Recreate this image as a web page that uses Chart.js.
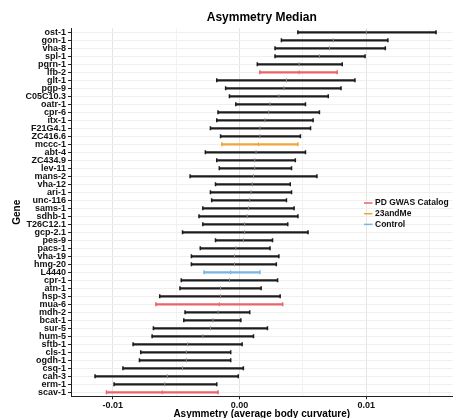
<!DOCTYPE html>
<html><head><meta charset="utf-8">
<script src="https://cdn.jsdelivr.net/npm/chart.js@4"></script>
<style>html,body{margin:0;padding:0;background:#fff;}</style>
</head><body>
<canvas id="c" width="458" height="418"></canvas>
<script>
const genes = ['ost-1','gon-1','vha-8','spl-1','pgrn-1','lfb-2','glt-1','pgp-9','C05C10.3','oatr-1',
  'cpr-6','itx-1','F21G4.1','ZC416.6','mccc-1','abt-4','ZC434.9','lev-11','mans-2','vha-12',
  'ari-1','unc-116','sams-1','sdhb-1','T26C12.1','gcp-2.1','pes-9','pacs-1','vha-19','hmg-20',
  'L4440','cpr-1','atn-1','hsp-3','mua-6','mdh-2','bcat-1','sur-5','hum-5','sftb-1',
  'cls-1','ogdh-1','csq-1','cah-3','erm-1','scav-1'];
const lowerCI = [0.0046,0.0033,0.0028,0.0028,0.0014,0.0016,-0.0018,-0.0011,-0.0008,-0.0003,
  -0.0017,-0.0018,-0.0023,-0.0015,-0.0014,-0.0027,-0.0018,-0.0016,-0.0039,-0.0019,
  -0.0023,-0.0022,-0.0029,-0.0032,-0.0029,-0.0045,-0.0019,-0.0031,-0.0038,-0.0038,
  -0.0028,-0.0046,-0.0047,-0.0063,-0.0066,-0.0043,-0.0044,-0.0068,-0.0069,-0.0084,
  -0.0078,-0.0079,-0.0092,-0.0114,-0.0099,-0.0105];
const medians = [0.0100,0.0074,0.0071,0.0063,0.0047,0.0047,0.0037,0.0035,0.0031,0.0024,
  0.0023,0.0020,0.0016,0.0016,0.0015,0.0013,0.0012,0.0012,0.0011,0.0010,
  0.0009,0.0008,0.0007,0.0006,0.0004,0.0004,0.0003,-0.0003,-0.0004,-0.0004,
  -0.0007,-0.0008,-0.0015,-0.0015,-0.0016,-0.0017,-0.0021,-0.0023,-0.0029,-0.0041,
  -0.0042,-0.0042,-0.0045,-0.0057,-0.0059,-0.0061];
const upperCI = [0.0155,0.0117,0.0115,0.0099,0.0081,0.0077,0.0091,0.0080,0.0070,0.0052,
  0.0063,0.0058,0.0056,0.0048,0.0046,0.0052,0.0044,0.0041,0.0061,0.0040,
  0.0041,0.0037,0.0043,0.0046,0.0038,0.0054,0.0026,0.0024,0.0031,0.0029,
  0.0016,0.0030,0.0017,0.0032,0.0034,0.0008,0.0001,0.0022,0.0011,0.0002,
  -0.0007,-0.0007,0.0003,-0.0001,-0.0018,-0.0017];
const pdGwasGenes = ['lfb-2','mua-6','scav-1'];
const andMeGenes = ['mccc-1'];
const controlGenes = ['L4440'];
const legendLabels = ['PD GWAS Catalog','23andMe','Control'];
const xTickValues = [-0.01,-0.005,0,0.005,0.01,0.015];
const xTickLabels = ['-0.01','','0.00','','0.01',''];

const FONT = "'Liberation Sans', Arial, Helvetica, sans-serif";
const C_BLACK = '#1c1c1c', C_RED = '#E8646A', C_ORANGE = '#F0A53A', C_BLUE = '#79B4E3';
const legendColors = [C_RED, C_ORANGE, C_BLUE];
function colorOf(g){
  if (pdGwasGenes.includes(g)) return C_RED;
  if (andMeGenes.includes(g)) return C_ORANGE;
  if (controlGenes.includes(g)) return C_BLUE;
  return C_BLACK;
}
const rowColors = genes.map(colorOf);
const medColors = genes.map(g => colorOf(g) === C_BLACK ? '#8a8a8a' : colorOf(g));

const insideLegend = {
  id: 'insideLegend',
  afterDraw(chart){
    const {ctx, chartArea} = chart;
    const x0 = chartArea.right - 88.5;
    const mid = (chartArea.top + chartArea.bottom) / 2 + 1.4;
    ctx.save();
    ctx.font = "bold 8.5px " + FONT;
    ctx.textBaseline = 'middle';
    ctx.textAlign = 'left';
    legendLabels.forEach((lab, i) => {
      const y = mid + (i - 1) * 10.7;
      ctx.strokeStyle = legendColors[i];
      ctx.lineWidth = 1.5;
      ctx.beginPath(); ctx.moveTo(x0, y); ctx.lineTo(x0 + 8.5, y); ctx.stroke();
      ctx.fillStyle = '#111';
      ctx.fillText(lab, x0 + 11, y);
    });
    ctx.restore();
  }
};

new Chart(document.getElementById('c'), {
  type: 'bar',
  data: {
    labels: genes,
    datasets: [
      { type: 'scatter', label: 'median', order: 0,
        data: genes.map((g,i) => ({x: medians[i], y: g})),
        pointStyle: 'line', rotation: 90, pointRadius: 2, pointBorderWidth: 1,
        pointBorderColor: medColors, borderColor: medColors, showLine: false },
      { type: 'scatter', label: 'caps', order: 1,
        data: genes.map((g,i) => ({x: lowerCI[i], y: g})).concat(genes.map((g,i) => ({x: upperCI[i], y: g}))),
        pointStyle: 'line', rotation: 90, pointRadius: 2, pointBorderWidth: 1.5,
        pointBorderColor: rowColors.concat(rowColors), borderColor: rowColors.concat(rowColors), showLine: false },
      { type: 'bar', label: 'interval', order: 2,
        data: genes.map((g,i) => [lowerCI[i], upperCI[i]]),
        backgroundColor: rowColors, borderWidth: 0, barThickness: 1.6, grouped: false }
    ]
  },
  options: {
    indexAxis: 'y',
    responsive: false,
    animation: false,
    events: [],
    layout: { padding: { left: 0, right: 1, top: 0, bottom: 0 } },
    plugins: {
      legend: { display: false },
      tooltip: { enabled: false },
      title: { display: true, text: 'Asymmetry Median', fullSize: false, color: '#000',
        font: { family: FONT, size: 12, weight: 'bold', lineHeight: 1.2 },
        padding: { top: 10, bottom: 3.9 } }
    },
    scales: {
      x: {
        type: 'linear', min: -0.0133, max: 0.0168,
        afterBuildTicks: s => { s.ticks = xTickValues.map(v => ({value: v})); },
        afterFit: s => { s.height = 21.7; },
        ticks: { callback: (v, i) => xTickLabels[i], color: '#111', padding: 1,
          font: { family: FONT, size: 9, weight: 'bold' }, maxRotation: 0, autoSkip: false },
        grid: {
          color: c => (c.tick && xTickLabels[c.index] !== '') ? '#e4e4e4' : '#f2f2f2',
          tickColor: c => (c.tick && xTickLabels[c.index] !== '') ? '#222' : 'rgba(0,0,0,0)',
          tickLength: 3, lineWidth: 1
        },
        border: { color: '#222', width: 1 },
        title: { display: true, text: 'Asymmetry (average body curvature)', color: '#000',
          font: { family: FONT, size: 10, weight: 'bold', lineHeight: 1.2 },
          padding: { top: 0, bottom: -2 } }
      },
      y: {
        type: 'category', offset: true,
        afterFit: s => { s.width = 71; },
        ticks: { autoSkip: false, color: '#111', padding: 2,
          font: { family: FONT, size: 9, weight: 'bold' } },
        grid: { offset: false, color: '#efefef', tickColor: '#222', tickLength: 3, lineWidth: 1 },
        border: { color: '#222', width: 1 },
        title: { display: true, text: 'Gene', color: '#000',
          font: { family: FONT, size: 10, weight: 'bold', lineHeight: 1.2 },
          padding: { top: 11, bottom: 0 } }
      }
    }
  },
  plugins: [insideLegend]
});
</script>
</body></html>
